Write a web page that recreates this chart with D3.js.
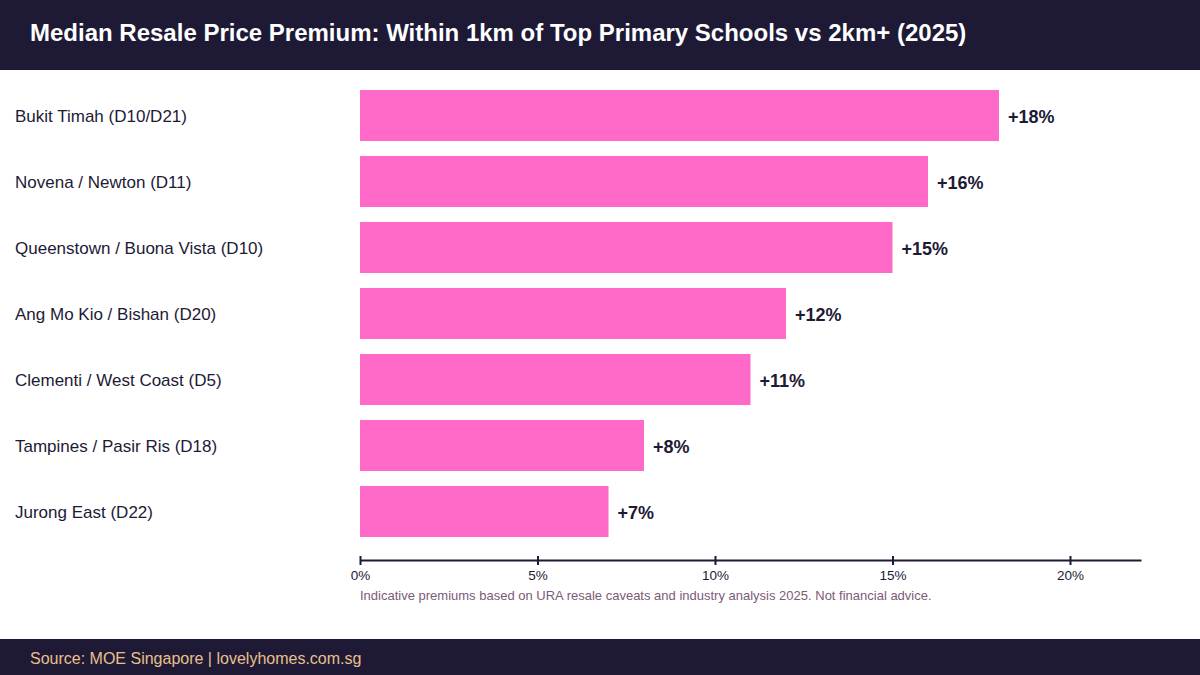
<!DOCTYPE html>
<html>
<head>
<meta charset="utf-8">
<script src="https://cdn.jsdelivr.net/npm/d3@7"></script>
<style>
  body { margin: 0; background: #fff; }
  svg { display: block; font-family: "Liberation Sans", Arial, sans-serif; }
</style>
</head>
<body>
<svg id="chart" width="1200" height="675"></svg>
<script>
const districts = [
  "Bukit Timah (D10/D21)",
  "Novena / Newton (D11)",
  "Queenstown / Buona Vista (D10)",
  "Ang Mo Kio / Bishan (D20)",
  "Clementi / West Coast (D5)",
  "Tampines / Pasir Ris (D18)",
  "Jurong East (D22)"
];
const premiums = [18, 16, 15, 12, 11, 8, 7];
const tickValues = [0, 5, 10, 15, 20];

const DARK = "#1e1a36";
const PINK = "#ff69c7";

const svg = d3.select("#chart");

// header
svg.append('rect')
  .attr('width', 1200).attr('height', 70)
  .attr('fill', DARK);
svg.append('text')
  .attr('x', 30).attr('y', 41)
  .attr('fill', "#fff")
  .attr('font-size', 24)
  .attr('font-weight', "bold")
  .text("Median Resale Price Premium: Within 1km of Top Primary Schools vs 2km+ (2025)");

// footer
svg.append('rect')
  .attr('y', 639).attr('width', 1200).attr('height', 36)
  .attr('fill', DARK);
svg.append('text')
  .attr('x', 30).attr('y', 664)
  .attr('fill', "#e9c08c")
  .attr('font-size', 16)
  .text("Source: MOE Singapore | lovelyhomes.com.sg");

const data = districts.map((d, i) => ({name: d, value: premiums[i]}));

const x = d3.scaleLinear().domain([0, 22]).range([360, 1141]);
const y = d3.scaleBand()
  .domain(districts)
  .range([75, 552])
  .padding(0.227);

const rows = svg.append('g').selectAll('g')
  .data(data)
  .join('g');

rows.append('rect')
  .attr('x', x(0))
  .attr('y', d => y(d.name))
  .attr('width', d => x(d.value) - x(0))
  .attr('height', y.bandwidth())
  .attr('fill', PINK);

rows.append('text')
  .attr('x', 15)
  .attr('y', d => y(d.name) + y.bandwidth() / 2 + 1)
  .attr('dy', "0.35em")
  .attr('fill', DARK)
  .attr('font-size', 17)
  .text(d => d.name);

rows.append('text')
  .attr('x', d => x(d.value) + 9)
  .attr('y', d => y(d.name) + y.bandwidth() / 2 + 1)
  .attr('dy', "0.35em")
  .attr('fill', DARK)
  .attr('font-size', 18)
  .attr('font-weight', "bold")
  .text(d => "+" + d.value + "%");

// axis
const axis = svg.append('g')
  .attr("transform", "translate(0,560)")
  .call(d3.axisBottom(x).tickValues(tickValues).tickSize(5).tickSizeOuter(0).tickFormat(d => d + "%"));
axis.select('.domain').attr('stroke', DARK).attr('stroke-width', 2);
axis.selectAll('.tick line').attr('stroke', DARK).attr('stroke-width', 2).attr('y1', -4);
axis.selectAll('.tick text')
  .attr('fill', DARK)
  .attr('font-size', 13.5)
  .attr('font-family', "Liberation Sans, Arial, sans-serif")
  .attr('y', 10);

svg.append('text')
  .attr('x', 360).attr('y', 600)
  .attr('fill', "#7d5a78")
  .attr('font-size', 13)
  .text("Indicative premiums based on URA resale caveats and industry analysis 2025. Not financial advice.");
</script>
</body>
</html>
